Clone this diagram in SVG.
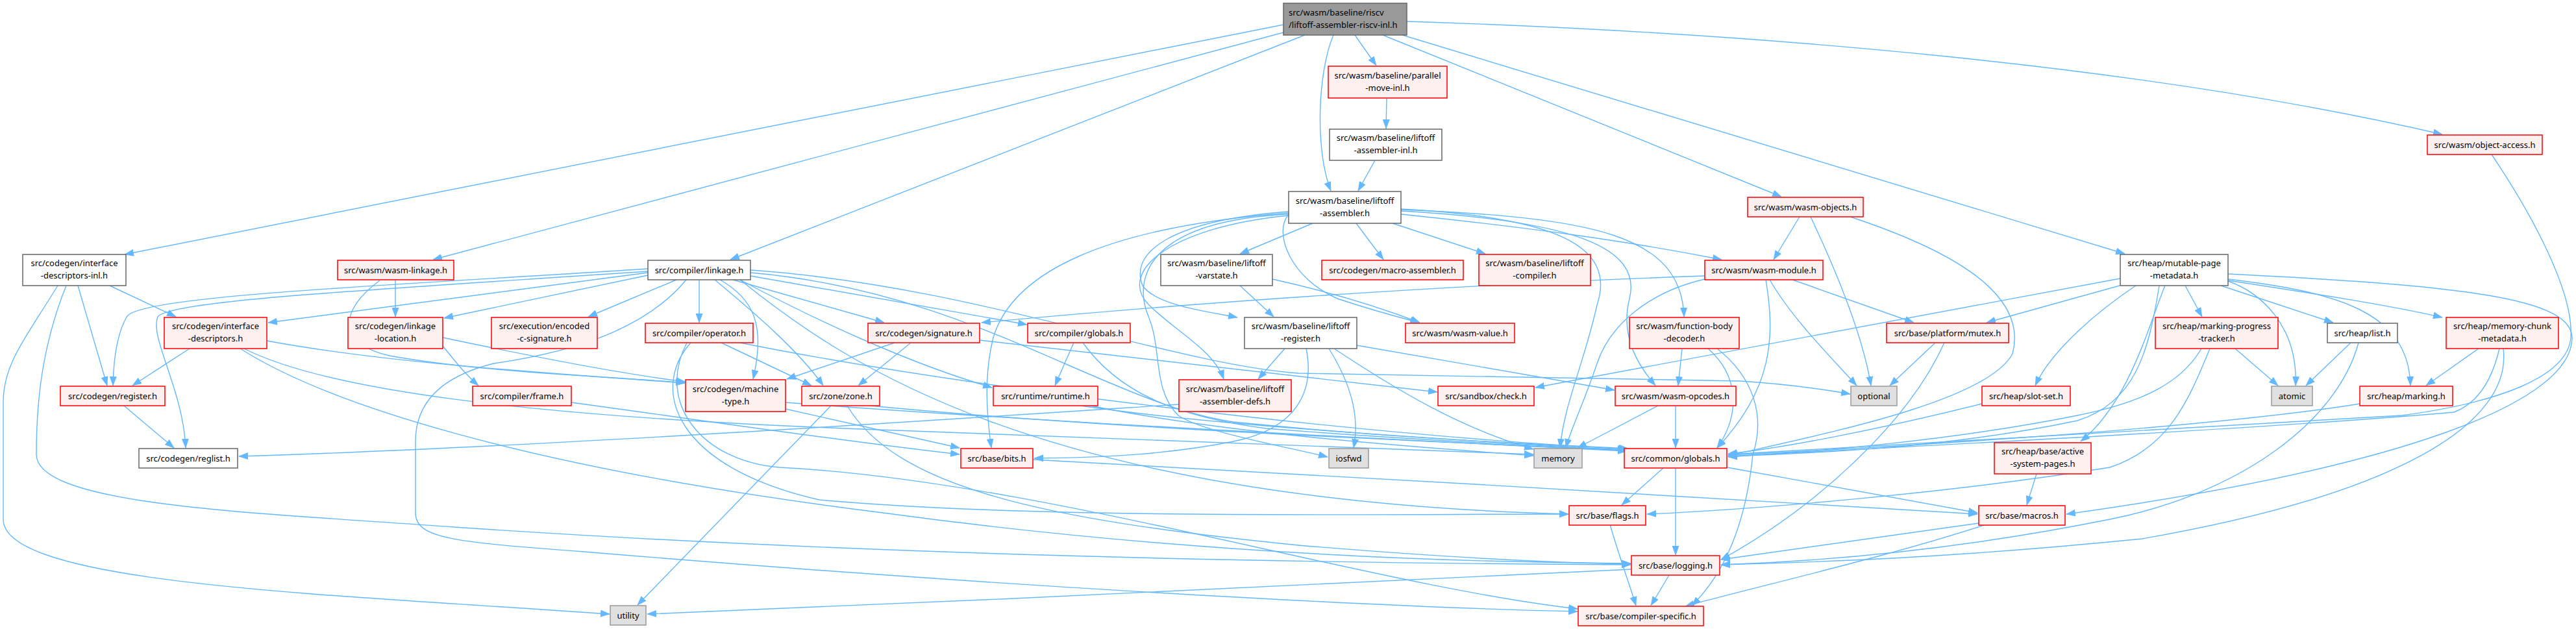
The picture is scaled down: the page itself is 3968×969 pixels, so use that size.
<svg xmlns="http://www.w3.org/2000/svg" width="3968" height="969" viewBox="0 0 3968 969">
<style>
text{font-family:"Noto Sans","DejaVu Sans",sans-serif;font-size:13px;fill:#000;text-anchor:middle}
text.l{text-anchor:start}
rect{stroke-width:1.5}
.red rect{fill:#FFF0F0;stroke:#FF0000}
.wht rect{fill:#FFFFFF;stroke:#666666}
.sys rect{fill:#E0E0E0;stroke:#999999}
.root rect{fill:#999999;stroke:#666666}
#edges path{fill:none;stroke:#63B8FF;stroke-width:1.4;marker-end:url(#a)}
</style>
<defs>
<marker id="a" markerWidth="15" markerHeight="11" refX="14" refY="5.5" orient="auto" markerUnits="userSpaceOnUse"><path d="M0,0 L15,5.5 L0,11 z" fill="#63B8FF"/></marker>
</defs>
<rect x="0" y="0" width="3968" height="969" fill="#FFFFFF"/>
<g id="edges">
<path d="M1977,38 L192,392"/>
<path d="M1977,50 L667,400"/>
<path d="M2010,54 L1125,400"/>
<path d="M2054,54 C2030,110 2025,230 2050,294"/>
<path d="M2087,54 L2120,101"/>
<path d="M2130,54 L2744,303"/>
<path d="M2160,54 L3273,391"/>
<path d="M2167,33 C2700,50 3300,100 3762,207"/>
<path d="M2136,151 L2135,198"/>
<path d="M2118,247 L2092,294"/>
<path d="M169,440 L271,488"/>
<path d="M120,440 L165,594"/>
<path d="M89,440 C40,520 5,560 5,620 L5,800 C5,900 500,915 939,946"/>
<path d="M102,440 C70,520 56,600 56,700 C56,780 400,790 700,812 C1400,860 2100,868 2512,870"/>
<path d="M609,431 L609,488"/>
<path d="M585,432 C520,480 520,530 600,548 C750,575 950,580 1055,590"/>
<path d="M998,420 L413,497"/>
<path d="M998,424 L684,490"/>
<path d="M998,414 C600,440 220,455 196,487 C182,510 175,550 174,594"/>
<path d="M998,418 C600,445 260,462 243,488 C230,520 282,600 286,690"/>
<path d="M1042,431 L906,488"/>
<path d="M1057,431 C1000,500 900,540 760,560 C680,580 640,620 640,680 L640,790 C640,830 700,835 900,850 C1500,900 2100,935 2430,942"/>
<path d="M1077,431 L1077,497"/>
<path d="M1109,431 C1160,460 1180,500 1160,584"/>
<path d="M1101,431 C1160,480 1230,540 1268,594"/>
<path d="M1129,431 L1362,497"/>
<path d="M1156,425 L1582,500"/>
<path d="M1140,431 C1250,490 1400,560 1528,597"/>
<path d="M1156,420 C1500,450 1700,620 1900,650 C2200,680 2400,685 2508,691"/>
<path d="M1140,431 C1300,560 1600,770 2416,792"/>
<path d="M1156,416 C1500,440 1800,560 2000,575 L2680,587 C2760,592 2810,600 2850,607"/>
<path d="M682,533 C700,555 715,575 737,594"/>
<path d="M682,520 C800,545 950,575 1055,588"/>
<path d="M292,537 L204,594"/>
<path d="M411,525 C600,560 850,575 1055,590"/>
<path d="M376,537 C500,600 800,640 1300,660 C1800,680 2100,690 2362,700"/>
<path d="M370,537 C500,620 800,720 1360,790 C1800,850 2200,866 2512,868"/>
<path d="M1111,528 L1250,594"/>
<path d="M1064,528 C1000,600 1040,720 1262,770 C1600,800 2100,792 2416,792"/>
<path d="M1058,528 C1010,620 1080,710 1200,720 C1600,740 2100,900 2430,938"/>
<path d="M1140,528 C1500,600 2100,670 2506,692"/>
<path d="M1378,528 L1212,584"/>
<path d="M1403,528 L1322,594"/>
<path d="M1509,524 C1800,555 2000,580 2214,604"/>
<path d="M1654,528 L1625,594"/>
<path d="M1668,528 C1720,600 1800,640 1950,660 C2200,680 2400,688 2506,693"/>
<path d="M1665,625 C1900,660 2300,680 2506,694"/>
<path d="M1680,625 C1900,670 2200,690 2362,702"/>
<path d="M1210,630 L1478,690"/>
<path d="M1210,620 C1600,650 2200,680 2506,695"/>
<path d="M880,620 C1100,650 1300,680 1478,700"/>
<path d="M1280,625 L982,932"/>
<path d="M1305,625 C1380,750 1600,800 2000,840 C2300,865 2450,868 2512,869"/>
<path d="M1340,625 C1700,660 2200,680 2506,694"/>
<path d="M2022,344 L1910,391"/>
<path d="M1985,328 C1700,350 1560,420 1530,520 C1515,580 1520,640 1527,690"/>
<path d="M2089,344 L2131,400"/>
<path d="M2145,344 L2288,391"/>
<path d="M2158,330 C2350,350 2500,370 2652,400"/>
<path d="M2158,323 C2450,335 2590,360 2594,488"/>
<path d="M2158,322 C2400,335 2490,380 2460,470 C2440,560 2410,620 2403,690"/>
<path d="M2158,325 C2420,340 2530,380 2510,460 C2495,520 2525,565 2550,594"/>
<path d="M1985,330 C1960,360 1990,430 2060,460 C2120,480 2160,490 2186,497"/>
<path d="M1985,326 C1800,340 1740,390 1760,440 C1780,470 1860,480 1906,489"/>
<path d="M1985,332 C1800,350 1720,420 1770,470 C1810,510 1870,540 1885,584"/>
<path d="M1985,330 C1780,340 1740,420 1770,490 C1790,540 1775,600 1815,640 C1850,665 1990,690 2045,704"/>
<path d="M1910,440 L1962,488"/>
<path d="M1960,430 C2050,450 2130,475 2187,497"/>
<path d="M1979,537 L1938,584"/>
<path d="M2012,537 C2025,600 2000,660 1900,680 C1800,700 1700,705 1593,706"/>
<path d="M2047,537 C2080,590 2095,640 2085,690"/>
<path d="M2055,537 C2150,600 2250,660 2362,692"/>
<path d="M2090,532 L2487,601"/>
<path d="M1816,623 C1400,650 800,690 368,703"/>
<path d="M191,625 L268,690"/>
<path d="M2772,334 L2732,400"/>
<path d="M2789,334 C2830,420 2870,520 2882,594"/>
<path d="M2850,334 C3050,400 3120,470 3100,545 C3060,620 2800,670 2662,702"/>
<path d="M2626,425 C2200,440 1800,470 1512,497"/>
<path d="M2626,430 C2540,450 2480,500 2460,560 C2440,620 2420,660 2412,690"/>
<path d="M2720,431 C2735,520 2730,600 2645,690"/>
<path d="M2726,431 C2760,490 2820,550 2860,594"/>
<path d="M2761,431 L2948,497"/>
<path d="M3838,238 C3900,330 3965,450 3960,520 C3955,580 3850,620 3700,640 C3300,665 2900,685 2662,700"/>
<path d="M3266,429 L2365,597"/>
<path d="M3265,440 L3060,497"/>
<path d="M3290,440 C3230,480 3160,540 3135,594"/>
<path d="M3326,440 C3310,540 3290,620 3200,648 C3000,690 2800,698 2662,703"/>
<path d="M3335,440 C3310,500 3280,620 3205,680"/>
<path d="M3366,440 L3392,488"/>
<path d="M3432,433 C3480,450 3540,500 3536,594"/>
<path d="M3421,440 L3594,497"/>
<path d="M3432,430 C3600,450 3710,480 3713,594"/>
<path d="M3432,432 C3550,450 3680,470 3762,489"/>
<path d="M3432,422 C3800,440 3960,460 3962,520 C3962,620 3700,720 3183,792"/>
<path d="M3818,537 L3737,594"/>
<path d="M3850,537 C3840,580 3820,620 3780,635 C3500,660 2900,690 2662,703"/>
<path d="M3856,537 C3870,650 3700,760 3300,830 C3000,860 2800,866 2651,870"/>
<path d="M3443,537 L3509,594"/>
<path d="M3391,537 C3360,590 3300,620 3200,640 C3000,680 2800,695 2662,704"/>
<path d="M3404,537 C3370,620 3340,690 3250,720 C3000,760 2700,785 2537,792"/>
<path d="M3621,528 L3552,594"/>
<path d="M3633,528 C3600,650 3450,760 3250,800 C3000,850 2800,865 2651,870"/>
<path d="M3635,622 C3400,660 2900,690 2662,701"/>
<path d="M3053,622 C2900,660 2750,690 2662,699"/>
<path d="M2981,528 L2911,594"/>
<path d="M2995,528 C2940,650 2800,780 2651,862"/>
<path d="M3137,730 L3122,778"/>
<path d="M2591,537 L2585,594"/>
<path d="M2631,537 C2680,580 2680,640 2645,690"/>
<path d="M2645,537 C2700,580 2720,640 2700,700 C2690,800 2660,880 2606,933"/>
<path d="M2554,625 L2430,690"/>
<path d="M2581,625 L2581,690"/>
<path d="M2562,721 L2498,778"/>
<path d="M2581,721 L2581,855"/>
<path d="M2660,720 L3046,790"/>
<path d="M2480,808 C2495,860 2510,900 2520,933"/>
<path d="M2571,886 L2543,933"/>
<path d="M2513,877 C2200,895 1500,925 997,946"/>
<path d="M3048,806 L2651,862"/>
<path d="M3059,808 C2900,860 2700,905 2596,934"/>
<path d="M1591,708 C2000,730 2700,770 3046,792"/>
</g>
<g id="n_main" class="root"><rect x="1977" y="5" width="190" height="49"/><text class="l" x="1985" y="23.5">src/wasm/baseline/riscv</text><text class="l" x="1985" y="42.5">/liftoff-assembler-riscv-inl.h</text></g>
<g id="n_pmove" class="red"><rect x="2046" y="102" width="183" height="49"/><text x="2137.5" y="120.5">src/wasm/baseline/parallel</text><text x="2137.5" y="139.5">-move-inl.h</text></g>
<g id="n_lainl" class="wht"><rect x="2048" y="199" width="173" height="48"/><text x="2134.5" y="217">src/wasm/baseline/liftoff</text><text x="2134.5" y="236">-assembler-inl.h</text></g>
<g id="n_oacc" class="red"><rect x="3739" y="208" width="177" height="30"/><text x="3827.5" y="227.5">src/wasm/object-access.h</text></g>
<g id="n_lasm" class="wht"><rect x="1985" y="295" width="173" height="49"/><text x="2071.5" y="313.5">src/wasm/baseline/liftoff</text><text x="2071.5" y="332.5">-assembler.h</text></g>
<g id="n_wobj" class="red"><rect x="2692" y="304" width="178" height="30"/><text x="2781" y="323.5">src/wasm/wasm-objects.h</text></g>
<g id="n_idinl" class="wht"><rect x="35" y="392" width="159" height="48"/><text x="114.5" y="410">src/codegen/interface</text><text x="114.5" y="429">-descriptors-inl.h</text></g>
<g id="n_wlink" class="red"><rect x="520" y="401" width="179" height="30"/><text x="609.5" y="420.5">src/wasm/wasm-linkage.h</text></g>
<g id="n_clink" class="wht"><rect x="998" y="401" width="158" height="30"/><text x="1077" y="420.5">src/compiler/linkage.h</text></g>
<g id="n_vstate" class="wht"><rect x="1788" y="392" width="172" height="48"/><text x="1874" y="410">src/wasm/baseline/liftoff</text><text x="1874" y="429">-varstate.h</text></g>
<g id="n_masm" class="red"><rect x="2036" y="401" width="218" height="30"/><text x="2145" y="420.5">src/codegen/macro-assembler.h</text></g>
<g id="n_lcomp" class="red"><rect x="2278" y="392" width="172" height="48"/><text x="2364" y="410">src/wasm/baseline/liftoff</text><text x="2364" y="429">-compiler.h</text></g>
<g id="n_wmod" class="red"><rect x="2626" y="401" width="182" height="30"/><text x="2717" y="420.5">src/wasm/wasm-module.h</text></g>
<g id="n_mpage" class="wht"><rect x="3266" y="392" width="166" height="48"/><text x="3349" y="410">src/heap/mutable-page</text><text x="3349" y="429">-metadata.h</text></g>
<g id="n_idesc" class="red"><rect x="253" y="489" width="158" height="48"/><text x="332" y="507">src/codegen/interface</text><text x="332" y="526">-descriptors.h</text></g>
<g id="n_lloc" class="red"><rect x="536" y="489" width="146" height="48"/><text x="609" y="507">src/codegen/linkage</text><text x="609" y="526">-location.h</text></g>
<g id="n_ecsig" class="red"><rect x="757" y="489" width="163" height="48"/><text x="838.5" y="507">src/execution/encoded</text><text x="838.5" y="526">-c-signature.h</text></g>
<g id="n_oper" class="red"><rect x="994" y="498" width="166" height="30"/><text x="1077" y="517.5">src/compiler/operator.h</text></g>
<g id="n_sig" class="red"><rect x="1337" y="498" width="172" height="30"/><text x="1423" y="517.5">src/codegen/signature.h</text></g>
<g id="n_cglob" class="red"><rect x="1583" y="498" width="158" height="30"/><text x="1662" y="517.5">src/compiler/globals.h</text></g>
<g id="n_lreg" class="wht"><rect x="1917" y="489" width="173" height="48"/><text x="2003.5" y="507">src/wasm/baseline/liftoff</text><text x="2003.5" y="526">-register.h</text></g>
<g id="n_wval" class="red"><rect x="2165" y="498" width="168" height="30"/><text x="2249" y="517.5">src/wasm/wasm-value.h</text></g>
<g id="n_fbd" class="red"><rect x="2510" y="489" width="169" height="48"/><text x="2594.5" y="507">src/wasm/function-body</text><text x="2594.5" y="526">-decoder.h</text></g>
<g id="n_mutex" class="red"><rect x="2906" y="498" width="188" height="30"/><text x="3000" y="517.5">src/base/platform/mutex.h</text></g>
<g id="n_mpt" class="red"><rect x="3320" y="489" width="189" height="48"/><text x="3414.5" y="507">src/heap/marking-progress</text><text x="3414.5" y="526">-tracker.h</text></g>
<g id="n_list" class="wht"><rect x="3585" y="498" width="108" height="30"/><text x="3639" y="517.5">src/heap/list.h</text></g>
<g id="n_mcm" class="red"><rect x="3768" y="489" width="173" height="48"/><text x="3854.5" y="507">src/heap/memory-chunk</text><text x="3854.5" y="526">-metadata.h</text></g>
<g id="n_reg" class="red"><rect x="93" y="595" width="161" height="30"/><text x="173.5" y="614.5">src/codegen/register.h</text></g>
<g id="n_frame" class="red"><rect x="728" y="595" width="152" height="30"/><text x="804" y="614.5">src/compiler/frame.h</text></g>
<g id="n_mtype" class="red"><rect x="1056" y="585" width="154" height="49"/><text x="1133" y="603.5">src/codegen/machine</text><text x="1133" y="622.5">-type.h</text></g>
<g id="n_zone" class="red"><rect x="1235" y="595" width="120" height="30"/><text x="1295" y="614.5">src/zone/zone.h</text></g>
<g id="n_rt" class="red"><rect x="1530" y="595" width="161" height="30"/><text x="1610.5" y="614.5">src/runtime/runtime.h</text></g>
<g id="n_defs" class="red"><rect x="1816" y="585" width="173" height="49"/><text x="1902.5" y="603.5">src/wasm/baseline/liftoff</text><text x="1902.5" y="622.5">-assembler-defs.h</text></g>
<g id="n_check" class="red"><rect x="2215" y="595" width="148" height="30"/><text x="2289" y="614.5">src/sandbox/check.h</text></g>
<g id="n_wop" class="red"><rect x="2488" y="595" width="186" height="30"/><text x="2581" y="614.5">src/wasm/wasm-opcodes.h</text></g>
<g id="n_opt" class="sys"><rect x="2851" y="595" width="71" height="30"/><text x="2886.5" y="614.5">optional</text></g>
<g id="n_slot" class="red"><rect x="3053" y="595" width="136" height="30"/><text x="3121" y="614.5">src/heap/slot-set.h</text></g>
<g id="n_atomic" class="sys"><rect x="3499" y="595" width="63" height="30"/><text x="3530.5" y="614.5">atomic</text></g>
<g id="n_mark" class="red"><rect x="3635" y="595" width="143" height="30"/><text x="3706.5" y="614.5">src/heap/marking.h</text></g>
<g id="n_reglist" class="wht"><rect x="214" y="691" width="152" height="30"/><text x="290" y="710.5">src/codegen/reglist.h</text></g>
<g id="n_bits" class="red"><rect x="1480" y="691" width="111" height="30"/><text x="1535.5" y="710.5">src/base/bits.h</text></g>
<g id="n_iosfwd" class="sys"><rect x="2047" y="691" width="61" height="30"/><text x="2077.5" y="710.5">iosfwd</text></g>
<g id="n_memory" class="sys"><rect x="2363" y="691" width="74" height="30"/><text x="2400" y="710.5">memory</text></g>
<g id="n_glob" class="red"><rect x="2502" y="691" width="158" height="30"/><text x="2581" y="710.5">src/common/globals.h</text></g>
<g id="n_asp" class="red"><rect x="3072" y="682" width="149" height="48"/><text x="3146.5" y="700">src/heap/base/active</text><text x="3146.5" y="719">-system-pages.h</text></g>
<g id="n_flags" class="red"><rect x="2417" y="779" width="118" height="30"/><text x="2476" y="798.5">src/base/flags.h</text></g>
<g id="n_macros" class="red"><rect x="3048" y="779" width="133" height="30"/><text x="3114.5" y="798.5">src/base/macros.h</text></g>
<g id="n_log" class="red"><rect x="2513" y="856" width="136" height="30"/><text x="2581" y="875.5">src/base/logging.h</text></g>
<g id="n_cspec" class="red"><rect x="2431" y="934" width="193" height="30"/><text x="2527.5" y="953.5">src/base/compiler-specific.h</text></g>
<g id="n_utility" class="sys"><rect x="940" y="933" width="55" height="30"/><text x="967.5" y="952.5">utility</text></g>
</svg>
